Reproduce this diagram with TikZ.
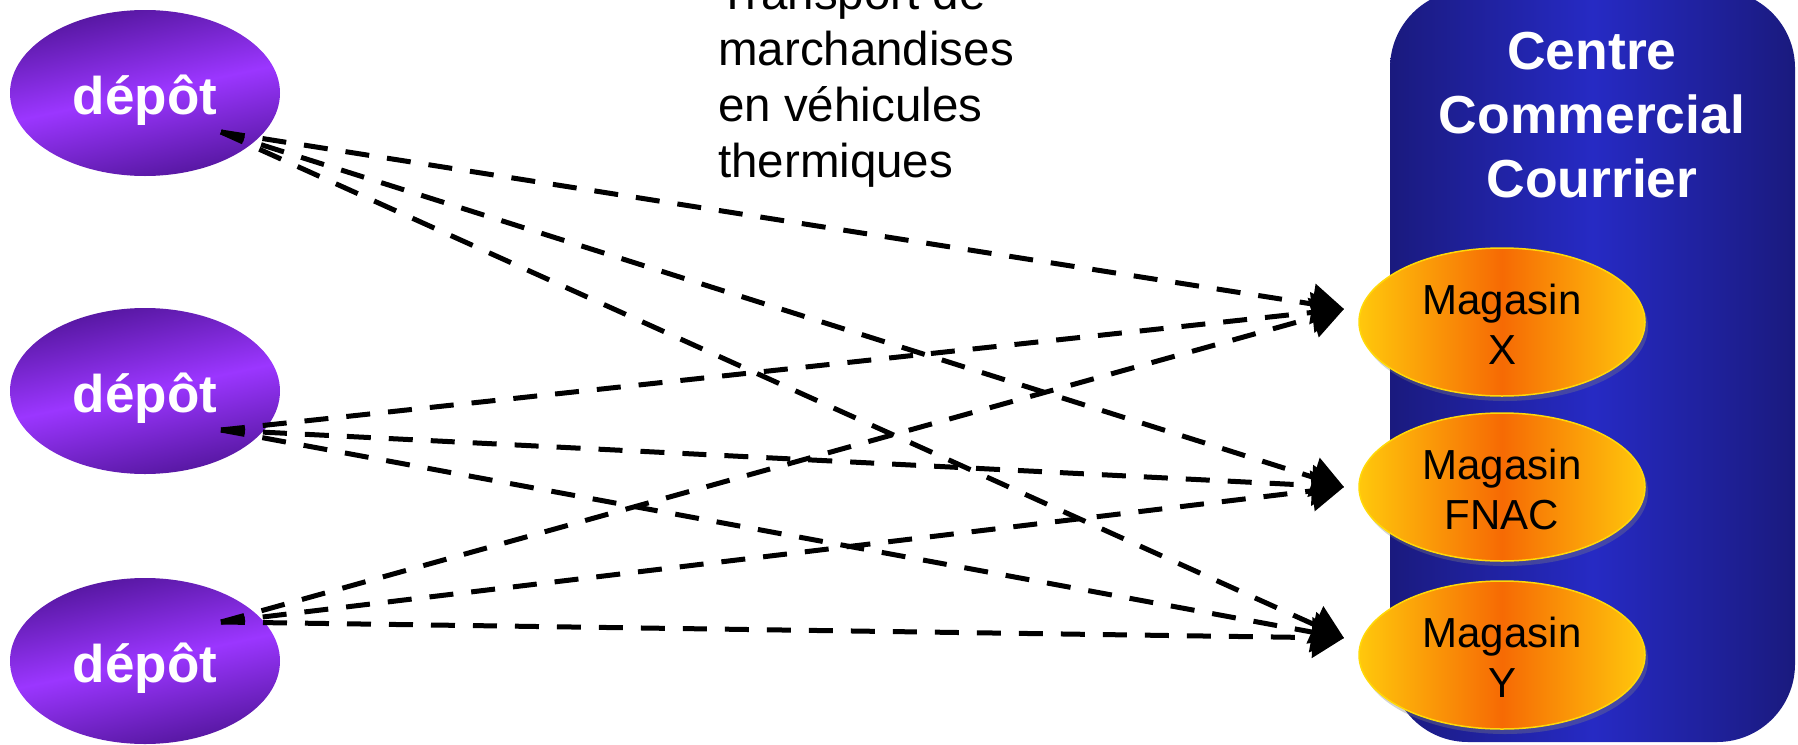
\documentclass[tikz,border=0pt]{standalone}
\usepackage{fontspec}
\setmainfont{Liberation Sans}
\usetikzlibrary{arrows.meta,shapes.geometric,shadows,calc}

\definecolor{purpD}{RGB}{84,22,158}
\definecolor{purpL}{RGB}{155,54,255}
\definecolor{blueD}{RGB}{26,26,126}
\definecolor{blueL}{RGB}{38,42,196}
\definecolor{magY}{RGB}{255,200,12}
\definecolor{magO}{RGB}{246,106,4}

\begin{document}
\begin{tikzpicture}[x=1pt,y=-1pt,
  centrebox/.style={rectangle, draw=none, rounded corners=78pt,
    minimum width=405pt, minimum height=752pt, inner sep=0pt,
    left color=blueD, right color=blueD, middle color=blueL},
  depot/.style={ellipse, minimum width=270pt, minimum height=166pt, inner sep=0pt,
    top color=purpD, bottom color=purpD, middle color=purpL, shading angle=12,
    text=white, font=\bfseries\fontsize{53}{60}\selectfont,
    text height=53pt, text depth=11pt},
  magasin/.style={ellipse, minimum width=286pt, minimum height=148pt, inner sep=0pt,
    left color=magY, right color=magY, middle color=magO,
    draw=magY!70!yellow, line width=1.5pt,
    font=\fontsize{42}{50}\selectfont,
    drop shadow={shadow xshift=3pt, shadow yshift=-5pt, opacity=0.35}},
  flow/.style={line width=5pt, dash pattern=on 24pt off 18pt,
    -{Triangle[length=32pt,width=40pt]}},
]
\useasboundingbox (0,0) rectangle (1798,744);

% centre commercial
\node[centrebox] (cc) at (1592.5,366) {};
\node[anchor=base, text=white, inner sep=0pt,
  font=\bfseries\fontsize{53.5}{64}\selectfont] (cctitle) at (1592,69)
  {\begin{tabular}[t]{@{}c@{}}Centre\\Commercial\\Courrier\end{tabular}};

% magasins
\node[magasin] (mx) at (1502,322) {\raisebox{-14pt}[0pt][0pt]{\begin{tabular}{@{}c@{}}Magasin\\X\end{tabular}}};
\node[magasin] (mf) at (1502,487) {\raisebox{-14pt}[0pt][0pt]{\begin{tabular}{@{}c@{}}Magasin\\FNAC\end{tabular}}};
\node[magasin] (my) at (1502,655) {\raisebox{-14pt}[0pt][0pt]{\begin{tabular}{@{}c@{}}Magasin\\Y\end{tabular}}};

% depots
\node[depot] (d1) at (145,93) {dépôt};
\node[depot] (d2) at (145,391) {dépôt};
\node[depot] (d3) at (145,661) {dépôt};

% label
\node[anchor=base west, inner sep=0pt, font=\fontsize{47.5}{56}\selectfont] (lbl) at (718,177)
  {\begin{tabular}[b]{@{}l@{}}Transport de\\marchandises\\en véhicules\\thermiques\end{tabular}};

% connector ends
\coordinate (s1) at ($(d1.center)+(76,39)$);
\coordinate (s2) at ($(d2.center)+(76,39)$);
\coordinate (s3) at ($(d3.center)+(76,-39)$);
\coordinate (ex) at ($(mx.center)+(-158,-13)$);
\coordinate (ef) at ($(mf.center)+(-158,0)$);
\coordinate (ey) at ($(my.center)+(-158,-17)$);

\foreach \s in {s1,s2,s3}{
  \foreach \e in {ex,ef,ey}{
    \draw[flow] (\s) -- (\e);
  }
}
\end{tikzpicture}
\end{document}
